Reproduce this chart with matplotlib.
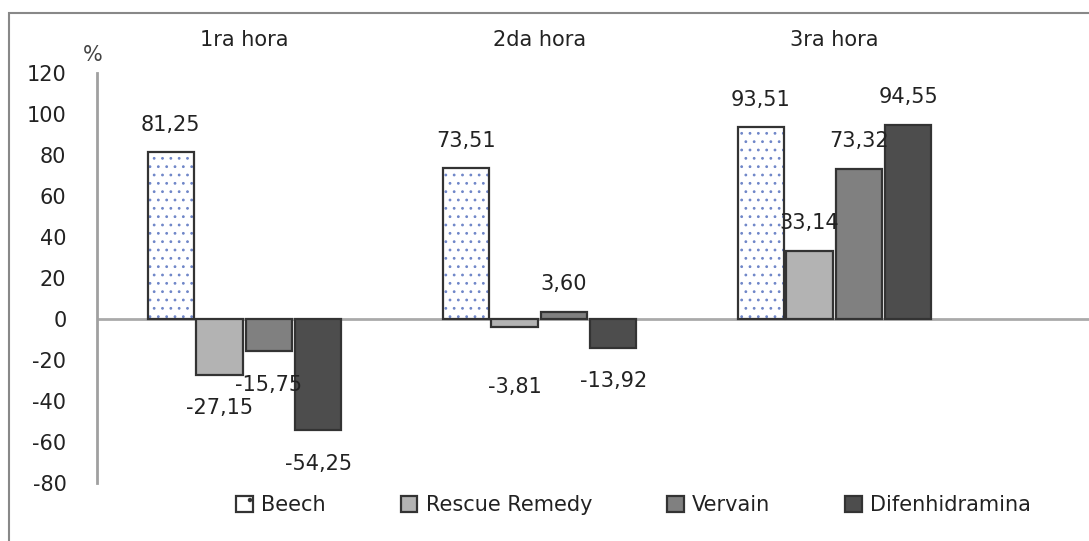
import numpy as np
import matplotlib
matplotlib.use('Agg')
import matplotlib.pyplot as plt
from matplotlib.patches import Rectangle

# data
horas = ['1ra hora', '2da hora', '3ra hora']
series = ['Beech', 'Rescue Remedy', 'Vervain', 'Difenhidramina']
beech = [81.25, 73.51, 93.51]
rescue = [-27.15, -3.81, 33.14]
vervain = [-15.75, 3.60, 73.32]
difen = [-54.25, -13.92, 94.55]
yticks = [120, 100, 80, 60, 40, 20, 0, -20, -40, -60, -80]

values = [beech, rescue, vervain, difen]
faces = ['white', '#b3b3b3', '#808080', '#4d4d4d']
edge = '#333333'

plt.rcParams['font.family'] = 'DejaVu Sans'
plt.rcParams['axes.unicode_minus'] = False
plt.rcParams['hatch.linewidth'] = 0.8

fig = plt.figure(figsize=(10.89, 5.41), dpi=100)
ax = fig.add_axes([97/1089, 1 - 483/541, 4*295/1089, 410/541])

x = np.arange(len(horas))
offs = [-0.25, -0.085, 0.083, 0.25]
w = 0.157

handles = []
for i, (vals, fc) in enumerate(zip(values, faces)):
    if i == 0:
        # dotted fill in blue, then dark outline on top
        ax.bar(x + offs[i], vals, w, color='white', edgecolor='#6f86c8',
               linewidth=0, hatch='..', zorder=2)
        b = ax.bar(x + offs[i], vals, w, color='none', edgecolor=edge,
                   linewidth=1.6, zorder=3)
    else:
        b = ax.bar(x + offs[i], vals, w, color=fc, edgecolor=edge,
                   linewidth=1.6, zorder=3)
    handles.append(Rectangle((0, 0), 1, 1, facecolor=fc, edgecolor=edge,
                             linewidth=1.6, hatch='.' if i == 0 else None))
    for xi, v in zip(x + offs[i], vals):
        lab = f'{v:.2f}'.replace('.', ',')
        if v >= 0:
            dy = 20
        else:
            dy = -24 if v < -5 else -43
        ax.annotate(lab, (xi, v), xytext=(0, dy), textcoords='offset points',
                    ha='center', va='center', fontsize=15, color='#222222',
                    zorder=5)

ax.set_xlim(-0.5, 3.5)
ax.set_ylim(-80, 120)
ax.set_yticks(yticks)
ax.tick_params(axis='y', length=0, labelsize=15, pad=22, labelcolor='#222222')
ax.set_xticks([])
for s in ['top', 'right', 'bottom']:
    ax.spines[s].set_visible(False)
ax.spines['left'].set_color('#a0a0a0')
ax.spines['left'].set_linewidth(2)
ax.axhline(0, color='#aaaaaa', linewidth=2, zorder=1)

for xi, h in zip(x, horas):
    ax.text(xi, 1.081, h, transform=ax.get_xaxis_transform(), ha='center',
            va='center', fontsize=15, color='#222222')
fig.text(93/1089, 1 - 55/541, '%', ha='center', va='center', fontsize=15,
         color='#444444')

# outer chart frame
fig.add_artist(Rectangle((9/1089, -0.1), 1.2, 1 - 13/541 + 0.1,
                         transform=fig.transFigure, fill=False,
                         edgecolor='#888888', linewidth=1.5))

fig.legend(handles, series, loc='center left', bbox_to_anchor=(236/1089, 1 - 505/541),
           ncol=4, frameon=False, fontsize=15, handlelength=0.8, handleheight=0.8,
           handletextpad=0.4, columnspacing=3.6, borderaxespad=0, borderpad=0,
           labelcolor='#222222')

fig.savefig('out.png', dpi=100)
